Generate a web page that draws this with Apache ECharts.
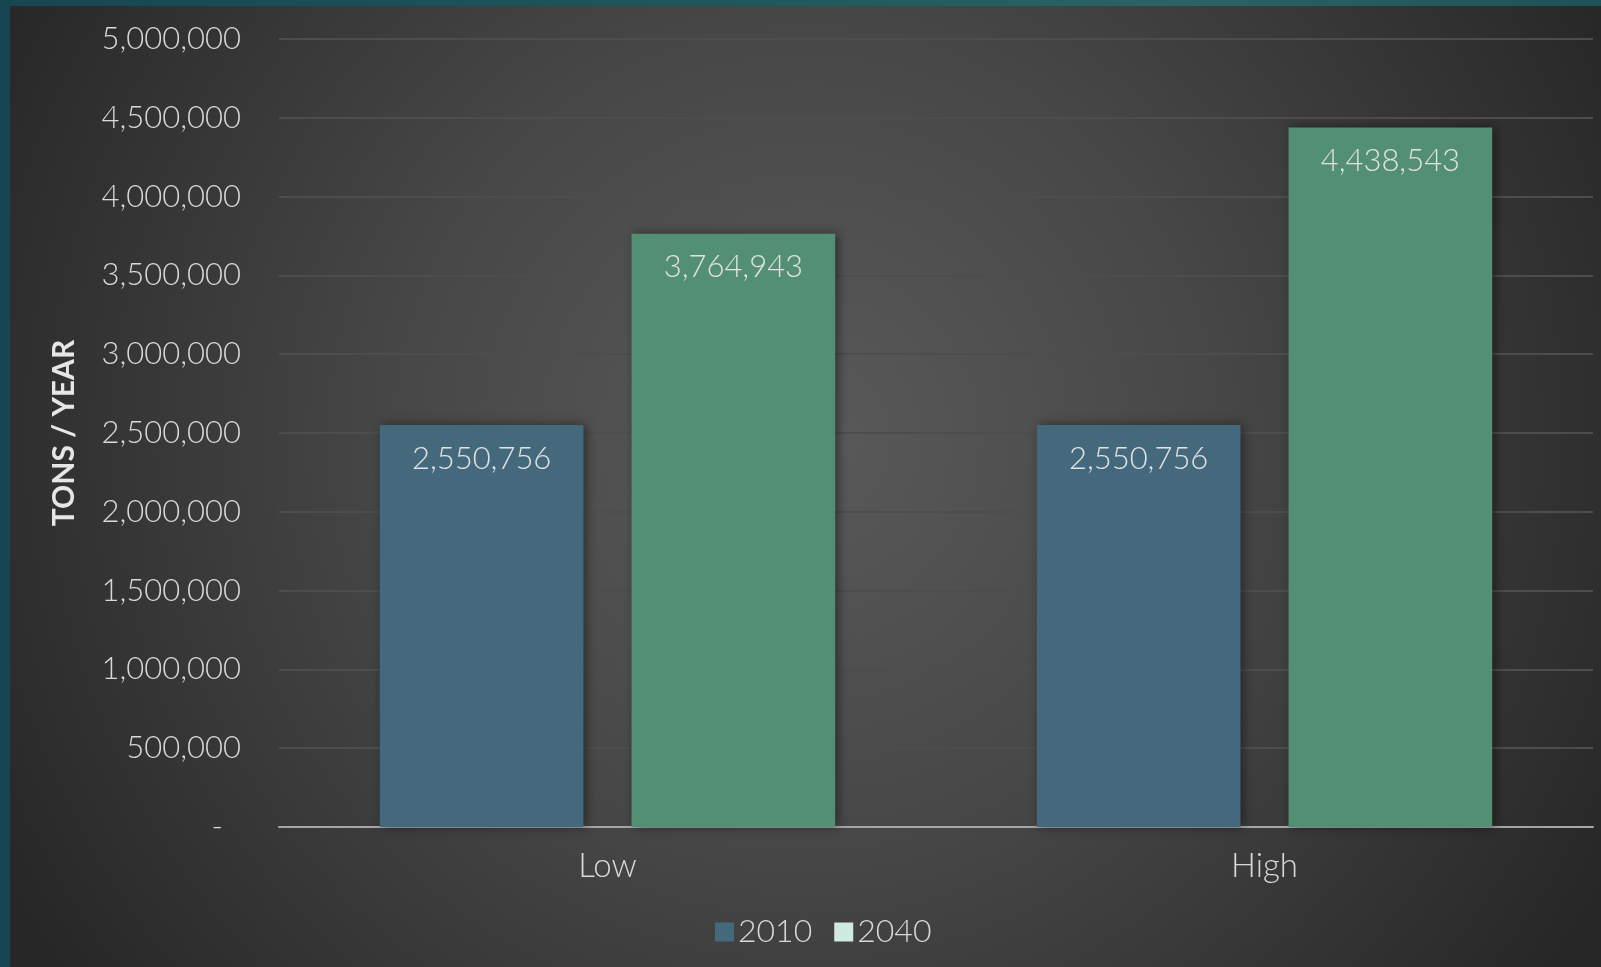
<!DOCTYPE html>
<html>
<head>
<meta charset="utf-8">
<script src="https://cdn.jsdelivr.net/npm/echarts@6/dist/echarts.min.js"></script>
<style>
html,body{margin:0;padding:0;width:1601px;height:967px;overflow:hidden;
background:linear-gradient(90deg,#174652 0%,#1f5a5e 50%,#2a6462 75%,#1f5158 100%);}
#c{position:absolute;left:10px;top:6px;width:1591px;height:961px;}
</style>
</head>
<body>
<div id="c"></div>
<script>
const categories = ['Low', 'High'];
const series2010 = [2550756, 2550756];
const series2040 = [3764943, 4438543];
const seriesNames = ['2010', '2040'];
const yTicks = { min: 0, max: 5000000, interval: 500000 };

const chart = echarts.init(document.getElementById('c'), null, {renderer: 'canvas'});
const font = 'Lato, "Noto Sans", sans-serif';
const fw = 300;
const labelStyle = {
  show: true, position: 'insideTop', distance: 18,
  color: '#e2e2e2', fontSize: 31, fontFamily: font, fontWeight: fw,
  formatter: p => p.value.toLocaleString('en-US')
};
chart.setOption({
  backgroundColor: {
    type: 'radial', x: 0.5, y: 0.45, r: 0.95,
    colorStops: [{offset: 0, color: '#5a5a5a'}, {offset: 0.45, color: '#474747'}, {offset: 1, color: '#272727'}]
  },
  textStyle: {fontFamily: font},
  grid: {left: 269, right: 8, top: 33, bottom: 140, containLabel: false},
  legend: {
    bottom: 14, left: 700, itemWidth: 19, itemHeight: 19, itemGap: 22,
    textStyle: {color: '#d9d9d9', fontSize: 32, fontFamily: font, fontWeight: fw, padding: [0,0,0,-1]},
    data: [
      {name: seriesNames[0], icon: 'rect', itemStyle: {color: '#44697d'}},
      {name: seriesNames[1], icon: 'rect', itemStyle: {color: '#cfeadf'}}
    ]
  },
  xAxis: {
    type: 'category', data: categories,
    axisLine: {lineStyle: {color: '#a6a6a6', width: 2}},
    axisTick: {show: false},
    axisLabel: {color: '#d9d9d9', fontSize: 33, margin: 23, fontFamily: font, fontWeight: fw}
  },
  yAxis: {
    type: 'value', min: yTicks.min, max: yTicks.max, interval: yTicks.interval,
    name: 'TONS / YEAR', nameLocation: 'middle', nameGap: 200,
    nameTextStyle: {color: '#e6e6e6', fontSize: 30, fontWeight: 'bold', fontFamily: font},
    axisLine: {show: false}, axisTick: {show: false},
    axisLabel: {
      color: '#d9d9d9', fontSize: 31, margin: 38, fontFamily: font, fontWeight: fw,
      formatter: v => v === 0 ? '{z|-}' : v.toLocaleString('en-US'),
      rich: {z: {color: '#d9d9d9', fontSize: 31, fontWeight: fw, padding: [0, 18, 0, 0], fontFamily: font}}
    },
    splitLine: {lineStyle: {color: '#4d4d4d', width: 2}}
  },
  series: [
    {
      name: seriesNames[0], type: 'bar', data: series2010,
      barWidth: '31%', barGap: '23.6%',
      itemStyle: {color: '#44697d', shadowColor: 'rgba(0,0,0,0.45)', shadowBlur: 10, shadowOffsetX: 3},
      label: labelStyle
    },
    {
      name: seriesNames[1], type: 'bar', data: series2040,
      barWidth: '31%', barGap: '23.6%',
      itemStyle: {color: '#528f74', shadowColor: 'rgba(0,0,0,0.45)', shadowBlur: 10, shadowOffsetX: 3},
      label: labelStyle
    }
  ]
});
</script>
</body>
</html>
